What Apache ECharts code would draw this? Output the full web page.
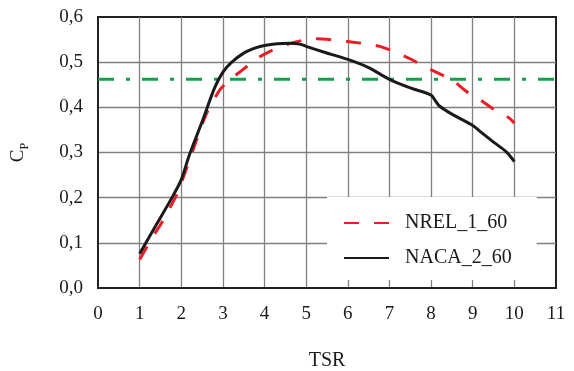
<!DOCTYPE html>
<html>
<head>
<meta charset="utf-8">
<script src="https://cdn.jsdelivr.net/npm/echarts@6/dist/echarts.min.js"></script>
<style>
  html, body { margin: 0; padding: 0; background: #fff; }
  #chart { width: 574px; height: 371px; }
</style>
</head>
<body>
<div id="chart"></div>
<script>
const serif = "'Liberation Serif', 'Times New Roman', serif";

// NREL_1_60 (red dashed)
const nrelTsr = [1, 1.3, 1.5, 1.7, 1.9, 2.0, 2.3, 2.6, 2.93, 3.17, 3.5, 3.8, 4.13, 4.5, 4.9, 5.25, 5.7, 6.0, 6.4, 6.77, 7.17, 7.51, 7.85, 8.21, 8.5, 8.85, 9.17, 9.53, 9.85, 10];
const nrelCp = [0.063, 0.111, 0.14, 0.173, 0.208, 0.232, 0.31, 0.385, 0.439, 0.461, 0.485, 0.507, 0.524, 0.538, 0.548, 0.552, 0.549, 0.546, 0.541, 0.535, 0.521, 0.507, 0.49, 0.474, 0.461, 0.435, 0.417, 0.394, 0.378, 0.365];

// NACA_2_60 (black solid)
const nacaTsr = [1, 1.4, 1.8, 2, 2.2, 2.5, 2.8, 3.0, 3.2, 3.5, 3.8, 4.0, 4.3, 4.6, 4.85, 5.0, 5.4, 6.0, 6.5, 7.0, 7.5, 8.0, 8.1, 8.2, 8.5, 9.0, 9.2, 9.5, 9.8, 10];
const nacaCp = [0.076, 0.14, 0.204, 0.24, 0.296, 0.368, 0.443, 0.478, 0.499, 0.52, 0.532, 0.537, 0.541, 0.542, 0.54, 0.535, 0.523, 0.506, 0.488, 0.462, 0.443, 0.427, 0.415, 0.403, 0.385, 0.36, 0.345, 0.323, 0.302, 0.28];

// reference level (green dash-dot)
const refTsr = [0, 11];
const refCp = [0.462, 0.462];

const xTicks = [0, 11, 1];   // min, max, step
const yTicks = [0, 0.6, 0.1];

function pairs(xs, ys) {
  return xs.map((x, i) => [x, ys[i]]);
}

const myChart = echarts.init(document.getElementById('chart'));

const option = {
  animation: false,
  textStyle: { fontFamily: serif, color: '#1a1a1a' },
  grid: {
    left: 98, right: 18, top: 17, bottom: 83,
    outerBoundsMode: 'none',
    containLabel: false,
    show: true,
    borderColor: '#222',
    borderWidth: 2,
    backgroundColor: 'transparent',
  },
  legend: {
    orient: 'vertical',
    left: 327,
    top: 197,
    padding: [16, 25, 12, 16],
    backgroundColor: '#fff',
    itemWidth: 45,
    itemHeight: 20,
    itemGap: 15,
    itemStyle: { opacity: 0, borderWidth: 0 },
    textStyle: { fontFamily: serif, fontSize: 20, color: '#1a1a1a', padding: [0, 0, 0, 11] },
    data: ['NREL_1_60', 'NACA_2_60'],
  },
  xAxis: {
    type: 'value',
    min: xTicks[0], max: xTicks[1], interval: xTicks[2],
    name: 'TSR',
    nameLocation: 'middle',
    nameGap: 63,
    nameTextStyle: { fontFamily: serif, fontSize: 20, color: '#1a1a1a' },
    axisLine: { show: true, lineStyle: { color: '#222', width: 2 } },
    axisTick: { show: false },
    axisLabel: { fontFamily: serif, fontSize: 19, color: '#1a1a1a', margin: 17 },
    splitLine: { show: true, showMinLine: false, showMaxLine: false, lineStyle: { color: '#808080', width: 1.3 } },
  },
  yAxis: {
    type: 'value',
    min: yTicks[0], max: yTicks[1], interval: yTicks[2],
    name: '{c|C}{p|P}',
    nameLocation: 'middle',
    nameRotate: 90,
    nameGap: 58,
    nameTextStyle: {
      rich: {
        c: { fontFamily: serif, fontSize: 19, color: '#1a1a1a', padding: [0, 0, 12, 0] },
        p: { fontFamily: serif, fontSize: 12, color: '#1a1a1a' },
      },
    },
    axisLine: { show: true, lineStyle: { color: '#222', width: 2 } },
    axisTick: { show: false },
    axisLabel: {
      fontFamily: serif, fontSize: 19, color: '#1a1a1a', margin: 15,
      formatter: v => v.toFixed(1).replace('.', ','),
    },
    splitLine: { show: true, showMinLine: false, showMaxLine: false, lineStyle: { color: '#808080', width: 1.3 } },
  },
  series: [
    {
      name: 'NREL_1_60',
      type: 'line',
      data: pairs(nrelTsr, nrelCp),
      smooth: 0.3,
      symbol: 'none',
      lineStyle: { color: '#ee1c25', width: 3, type: [15, 15] },
      itemStyle: { color: '#ee1c25' },
      z: 3,
    },
    {
      name: 'NACA_2_60',
      type: 'line',
      data: pairs(nacaTsr, nacaCp),
      smooth: 0.3,
      symbol: 'none',
      lineStyle: { color: '#1a1a1a', width: 3 },
      itemStyle: { color: '#1a1a1a' },
      z: 4,
    },
    {
      name: 'ref',
      type: 'line',
      data: pairs(refTsr, refCp),
      symbol: 'none',
      silent: true,
      lineStyle: { color: '#0ea04b', width: 3, type: [16, 12, 4, 12] },
      z: 2,
    },
  ],
};

option && myChart.setOption(option);
</script>
</body>
</html>
